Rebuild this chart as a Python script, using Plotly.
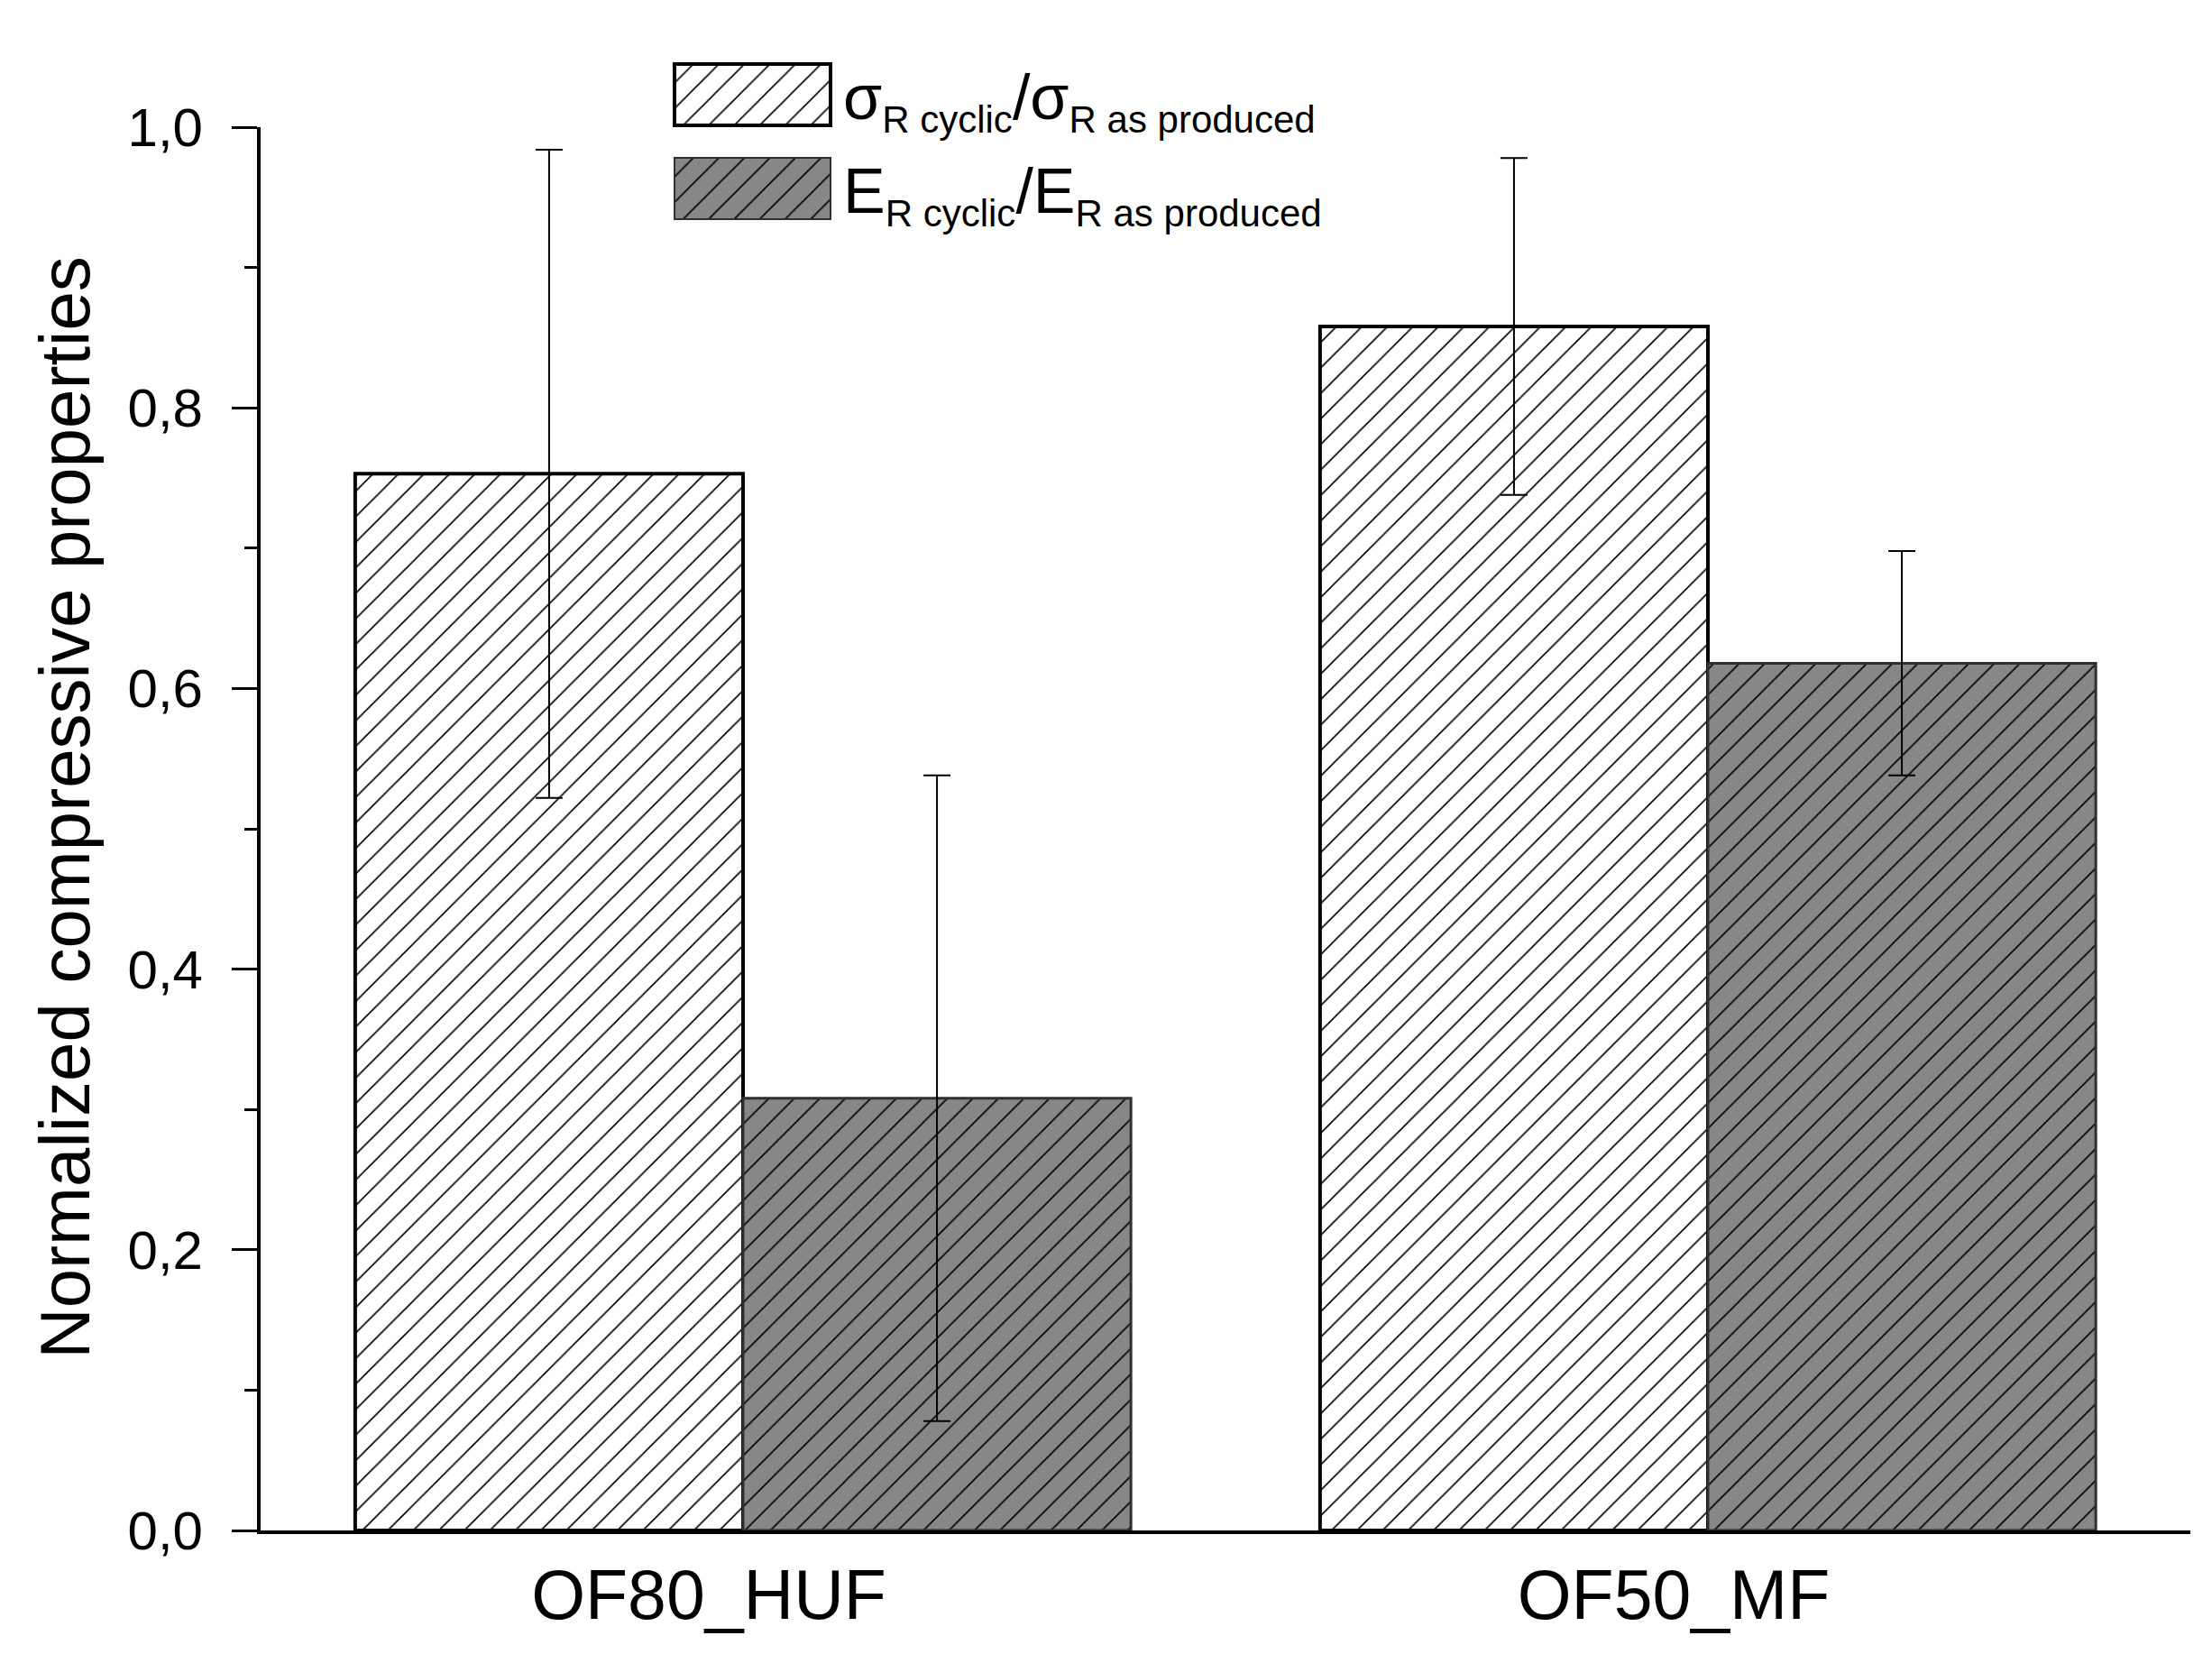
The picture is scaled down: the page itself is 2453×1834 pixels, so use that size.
import plotly.graph_objects as go

categories = ["OF80_HUF", "OF50_MF"]
sigma_ratio = [0.753, 0.858]
sigma_err = [0.231, 0.120]
modulus_ratio = [0.308, 0.618]
modulus_err = [0.230, 0.080]
series_names = [
    'σ<sub><span style="font-size:42px">R cyclic</span></sub>/σ<sub><span style="font-size:42px">R as produced</span></sub>',
    'E<sub><span style="font-size:42px">R cyclic</span></sub>/E<sub><span style="font-size:42px">R as produced</span></sub>',
]
y_title = "Normalized compressive properties"

fig = go.Figure()
fig.add_trace(go.Bar(
    x=categories, y=sigma_ratio, name=series_names[0], legendgroup="a",
    marker=dict(color="white", line=dict(color="black", width=4),
                pattern=dict(shape="/", fgcolor="black", bgcolor="white",
                             size=20, solidity=0.08, fillmode="replace")),
    error_y=dict(type="data", array=sigma_err, color="black", thickness=2, width=15),
))
fig.add_trace(go.Bar(
    x=categories, y=modulus_ratio, name=series_names[1], legendgroup="b",
    marker=dict(color="#878787", line=dict(color="#303030", width=3),
                pattern=dict(shape="/", fgcolor="black", bgcolor="#878787",
                             size=20, solidity=0.08, fillmode="replace")),
    error_y=dict(type="data", array=modulus_err, color="black", thickness=2, width=15),
))

fig.update_layout(
    width=2453, height=1834,
    margin=dict(l=281, r=32, t=133, b=145, autoexpand=False),
    paper_bgcolor="white", plot_bgcolor="white",
    barmode="group", bargap=0.196, bargroupgap=0,
    separators=",.",
    font=dict(family="Liberation Sans, Arial, sans-serif", color="black"),
    legend=dict(x=727 / 2453, xref="container", y=1 - 45 / 1834, yref="container",
                xanchor="left", yanchor="top", font=dict(size=70),
                bgcolor="rgba(0,0,0,0)", itemwidth=190, tracegroupgap=10),
    xaxis=dict(type="category", range=[-0.5, 1.5], showline=True, linecolor="black",
               linewidth=4, ticks="", tickfont=dict(size=77), showgrid=False,
               zeroline=False, ticklabelstandoff=2, ticklabelshift=-38),
    xaxis2=dict(overlaying="x", anchor="y", side="bottom", range=[-0.5, 1.5],
                tick0=-0.2, dtick=0.5, ticks="outside", ticklen=35, tickwidth=3,
                tickcolor="black", showticklabels=False, showgrid=False,
                zeroline=False, showline=False,
                minor=dict(tick0=0.05, dtick=0.5, ticks="outside", ticklen=18,
                           tickwidth=3, tickcolor="black", showgrid=False)),
    yaxis=dict(range=[0, 1], tick0=0, dtick=0.2, tickformat=".1f", ticks="outside",
               ticklen=28, tickwidth=3, tickcolor="black", showline=True,
               linewidth=4, linecolor="black", tickfont=dict(size=60),
               ticklabelstandoff=20,
               minor=dict(dtick=0.1, ticks="outside", ticklen=14, tickwidth=3,
                          tickcolor="black", showgrid=False),
               showgrid=False, zeroline=False),
    annotations=[dict(text=y_title, textangle=-90, xref="paper", yref="paper",
                      x=(64 - 281) / 2140, y=0.515, xanchor="center", yanchor="middle",
                      showarrow=False, font=dict(size=78))],
)

post = """
var gd = document.getElementById('{plot_id}');
var bars = gd.querySelectorAll('.barlayer .trace');
var items = gd.querySelectorAll('.legend .traces');
items.forEach(function(t, i){
  var txt = t.querySelector('.legendtext');
  var tx = parseFloat(txt.getAttribute('x'));
  if (isNaN(tx)) { tx = 200; }
  var barFill = null;
  if (bars[i]) {
    var bp = bars[i].querySelector('path');
    if (bp) { barFill = bp.style.fill; }
  }
  var ps = t.querySelectorAll('.legendpoints path');
  ps.forEach(function(p){
    p.removeAttribute('transform');
    var x0 = tx - 14 - 173;
    p.setAttribute('d', 'M' + x0 + ',-34h173v68h-173z');
    p.style.strokeWidth = (i === 0 ? 4 : 2) + 'px';
    if (barFill) { p.style.fill = barFill; }
  });
});
"""

fig.write_html("out.html", post_script=post)
